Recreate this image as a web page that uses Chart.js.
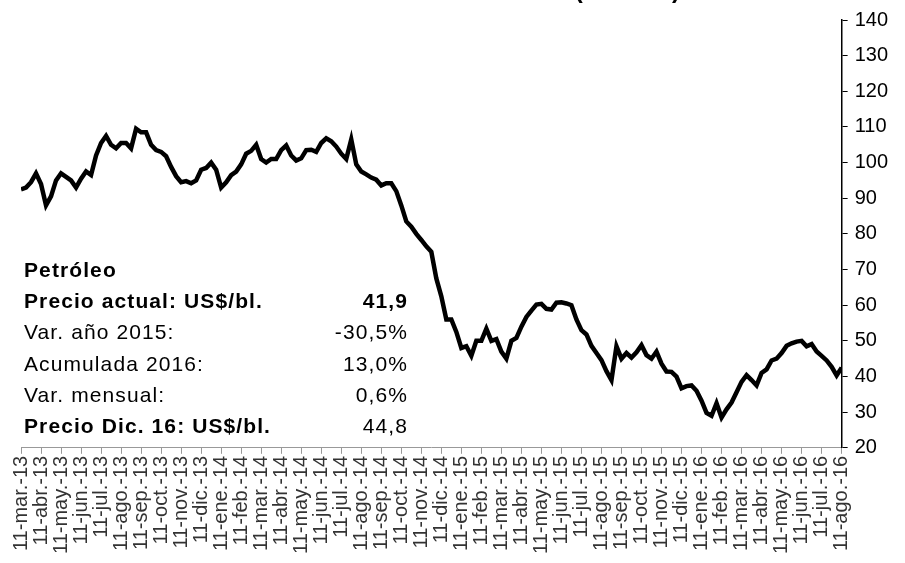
<!DOCTYPE html>
<html>
<head>
<meta charset="utf-8">
<script src="https://cdn.jsdelivr.net/npm/chart.js@4.4.1/dist/chart.umd.min.js"></script>
<style>
  html, body { margin: 0; padding: 0; background: #fff; overflow: hidden; }
  #wrap { position: absolute; left: 0; top: 0; width: 905px; height: 563px; }
  #title { position: absolute; top: -24px; left: 276px; width: 400px; text-align: right; line-height: 30px;
           font: bold 24px "Liberation Sans", Arial, sans-serif; letter-spacing: 1px; color: #000; white-space: nowrap; }
  #box { position: absolute; left: 24px; top: 254px; width: 384px;
         font: 21px "Liberation Sans", Arial, sans-serif; letter-spacing: 1.1px; color: #000; }
  .row { height: 31.2px; line-height: 31.2px; position: relative; white-space: nowrap; }
  .row .v { position: absolute; right: 0; top: 0; }
  .b { font-weight: bold; }
</style>
</head>
<body>
<div id="wrap"><canvas id="myChart"></canvas></div>
<div id="title"></div>
<div id="box"></div>
<script>
// months on the axis
const monthLabels = [
  '11-mar.-13','11-abr.-13','11-may.-13','11-jun.-13','11-jul.-13','11-ago.-13','11-sep.-13','11-oct.-13','11-nov.-13','11-dic.-13',
  '11-ene.-14','11-feb.-14','11-mar.-14','11-abr.-14','11-may.-14','11-jun.-14','11-jul.-14','11-ago.-14','11-sep.-14','11-oct.-14','11-nov.-14','11-dic.-14',
  '11-ene.-15','11-feb.-15','11-mar.-15','11-abr.-15','11-may.-15','11-jun.-15','11-jul.-15','11-ago.-15','11-sep.-15','11-oct.-15','11-nov.-15','11-dic.-15',
  '11-ene.-16','11-feb.-16','11-mar.-16','11-abr.-16','11-may.-16','11-jun.-16','11-jul.-16','11-ago.-16'
];

// weekly price (US$/bl.), 4 readings per month
const prices = [
  92.5, 93, 94.5, 97, 94, 88, 90.5, 95, 97, 96, 95, 93, 95.5, 97.5, 96.5, 102,
  105.5, 107.5, 105, 104, 105.5, 105.5, 104, 109.5, 108.5, 108.5, 105, 103.5, 103, 101.8, 98.8, 96.2,
  94.5, 94.8, 94.2, 95, 98, 98.5, 100, 98, 93, 94.5, 96.5, 97.5, 99.5, 102.5, 103.3, 105,
  101, 100, 101, 101, 103.5, 104.8, 102, 100.6, 101.2, 103.5, 103.6, 103, 105.5, 106.8, 106, 104.5,
  102.5, 101, 106.5, 99.5, 97.5, 96.7, 95.8, 95.2, 93.6, 94.2, 94.2, 92, 88, 83.5, 82, 80,
  78.3, 76.5, 75, 67.5, 62.5, 56, 56, 52.5, 48, 48.5, 45.8, 50, 50, 53.4, 50, 50.5,
  47, 45, 50, 50.8, 54, 56.7, 58.5, 60.2, 60.4, 59, 58.8, 60.7, 60.8, 60.5, 60, 56,
  53, 51.8, 48.6, 46.6, 44.6, 41.5, 39, 48.5, 45, 46.6, 45.3, 46.8, 48.8, 46, 45, 47,
  43.6, 41.4, 41.3, 40, 36.7, 37.3, 37.5, 36, 33.2, 29.8, 29, 32.5, 28.5, 30.8, 32.7, 35.6,
  38.5, 40.4, 39, 37.5, 41, 42, 44.5, 45, 46.6, 48.6, 49.3, 49.8, 50, 48.5, 49.1, 47,
  45.8, 44.5, 42.7, 40.3, 42.5
];
const perMonth = 4;

const yTicks = [20, 30, 40, 50, 60, 70, 80, 90, 100, 110, 120, 130, 140];

const titleText = 'Precio del Petróleo WTI (US$/bl.)';
const boxLabels = ['Petróleo', 'Precio actual: US$/bl.', 'Var. año 2015:', 'Acumulada 2016:', 'Var. mensual:', 'Precio Dic. 16:  US$/bl.'];
const boxValues = ['', '41,9', '-30,5%', '13,0%', '0,6%', '44,8'];
const boxBold   = [true, true, false, false, false, true];

document.getElementById('title').textContent = titleText;
const box = document.getElementById('box');
boxLabels.forEach((t, i) => {
  const r = document.createElement('div');
  r.className = 'row' + (boxBold[i] ? ' b' : '');
  const l = document.createElement('span');
  l.textContent = t;
  const v = document.createElement('span');
  v.className = 'v';
  if (i === 5) v.style.fontWeight = 'normal';
  v.textContent = boxValues[i];
  r.appendChild(l); r.appendChild(v);
  box.appendChild(r);
});

const ctx = document.getElementById('myChart').getContext('2d');

const data = {
  datasets: [{
    label: 'Petróleo',
    data: prices.map((p, i) => ({ x: i / perMonth, y: p })),
    borderColor: '#000',
    borderWidth: 4.5,
    pointRadius: 0,
    tension: 0,
    fill: false
  }]
};

const config = {
  type: 'line',
  data: data,
  options: {
    responsive: true,
    maintainAspectRatio: false,
    animation: false,
    layout: { padding: { left: 21, top: 20, right: 10, bottom: 7 } },
    plugins: { legend: { display: false }, tooltip: { enabled: false } },
    scales: {
      x: {
        type: 'linear',
        min: 0,
        max: monthLabels.length - 1,
        afterBuildTicks: (axis) => { axis.ticks = monthLabels.map((m, i) => ({ value: i })); },
        ticks: {
          autoSkip: false,
          maxRotation: 90,
          minRotation: 90,
          color: '#333',
          padding: 2,
          font: { family: 'Liberation Sans', size: 20 },
          callback: (v) => monthLabels[v]
        },
        grid: { drawOnChartArea: false, color: '#999', tickLength: 6 },
        border: { color: '#999', width: 1 }
      },
      y: {
        position: 'right',
        min: 20,
        max: 140,
        afterBuildTicks: (axis) => { axis.ticks = yTicks.map(v => ({ value: v })); },
        ticks: {
          color: '#000',
          padding: 7,
          font: { family: 'Liberation Sans', size: 20 }
        },
        grid: { drawOnChartArea: false, color: '#000', tickLength: 6 },
        border: { color: '#000', width: 1.5 }
      }
    }
  }
};

const myChart = new Chart(ctx, config);
</script>
</body>
</html>
